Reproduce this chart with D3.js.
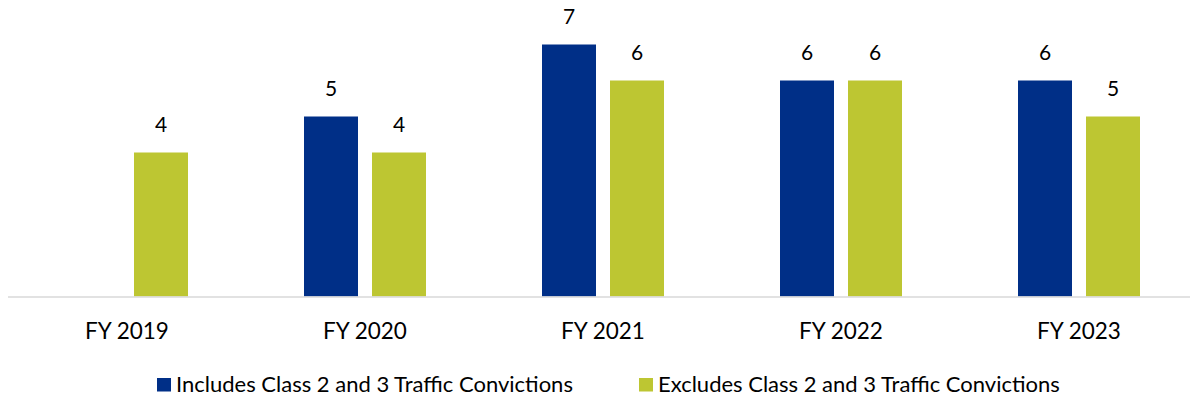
<!DOCTYPE html>
<html>
<head>
<meta charset="utf-8">
<script src="https://cdn.jsdelivr.net/npm/d3@7"></script>
<style>
  html, body { margin: 0; padding: 0; background: #fff; }
  svg { display: block; font-family: Lato, "Open Sans", sans-serif; }
</style>
</head>
<body>
<svg id="chart" width="1190" height="397"></svg>
<script>
// Fiscal years on the category axis
const years = ["FY 2019", "FY 2020", "FY 2021", "FY 2022", "FY 2023"];
// Series names shown in the legend
const seriesNames = [
  "Includes Class 2 and 3 Traffic Convictions",
  "Excludes Class 2 and 3 Traffic Convictions"
];
// Values per fiscal year (null = no bar)
const includesValues = [null, 5, 7, 6, 6];
const excludesValues = [4, 4, 6, 6, 5];
const seriesColors = ["#002F87", "#BDC632"];

const svg = d3.select("#chart");
const W = 1190;

const x = d3.scaleBand().domain(years).range([8, 1198]).paddingInner(0).paddingOuter(0);
const inner = d3.scaleBand().domain([0, 1]).range([58, 180]).paddingInner(14 / 68);
const y = d3.scaleLinear().domain([0, 8]).range([296.5, 8.5]);

const rows = years.map((yr, i) => ({
  year: yr,
  vals: [includesValues[i], excludesValues[i]]
}));

const groups = svg.selectAll("g.grp").data(rows).enter().append("g")
  .attr("class", "grp")
  .attr("transform", d => `translate(${x(d.year)},0)`);

groups.selectAll("rect").data(d => d.vals.map((v, k) => ({v, k})).filter(e => e.v != null))
  .enter().append("rect")
  .attr("x", e => inner(e.k))
  .attr("width", inner.bandwidth())
  .attr("y", e => y(e.v))
  .attr("height", e => y(0) - y(e.v))
  .attr("fill", e => seriesColors[e.k]);

groups.selectAll("text.val").data(d => d.vals.map((v, k) => ({v, k})).filter(e => e.v != null))
  .enter().append("text")
  .attr("class", "val")
  .attr("x", e => inner(e.k) + inner.bandwidth() / 2)
  .attr("y", e => y(e.v) - 21)
  .attr("text-anchor", "middle")
  .attr("font-size", 21)
  .attr("fill", "#000")
  .text(e => e.v);

// Category axis
const xAxis = svg.append("g")
  .attr("transform", `translate(0,${y(0) + 0.5})`)
  .call(d3.axisBottom(x).tickSize(0).tickPadding(0));
xAxis.select(".domain").attr("stroke", "#D9D9D9").attr("stroke-width", 1.5)
  .attr("d", `M8,0H${W}`);
xAxis.selectAll("text")
  .attr("font-size", 22.5)
  .attr("fill", "#000")
  .attr("font-family", "Lato, 'Open Sans', sans-serif")
  .attr("dy", null)
  .attr("y", 42);

// Legend
const legendPos = [157, 639];
const leg = svg.selectAll("g.leg").data(seriesNames).enter().append("g")
  .attr("class", "leg")
  .attr("transform", (d, i) => `translate(${legendPos[i]},378)`);
leg.append("rect").attr("width", 14).attr("height", 13.5)
  .attr("fill", (d, i) => seriesColors[i]);
leg.append("text").attr("x", 19).attr("y", 13.5)
  .attr("font-size", 22).attr("fill", "#000")
  .text(d => d);
</script>
</body>
</html>
